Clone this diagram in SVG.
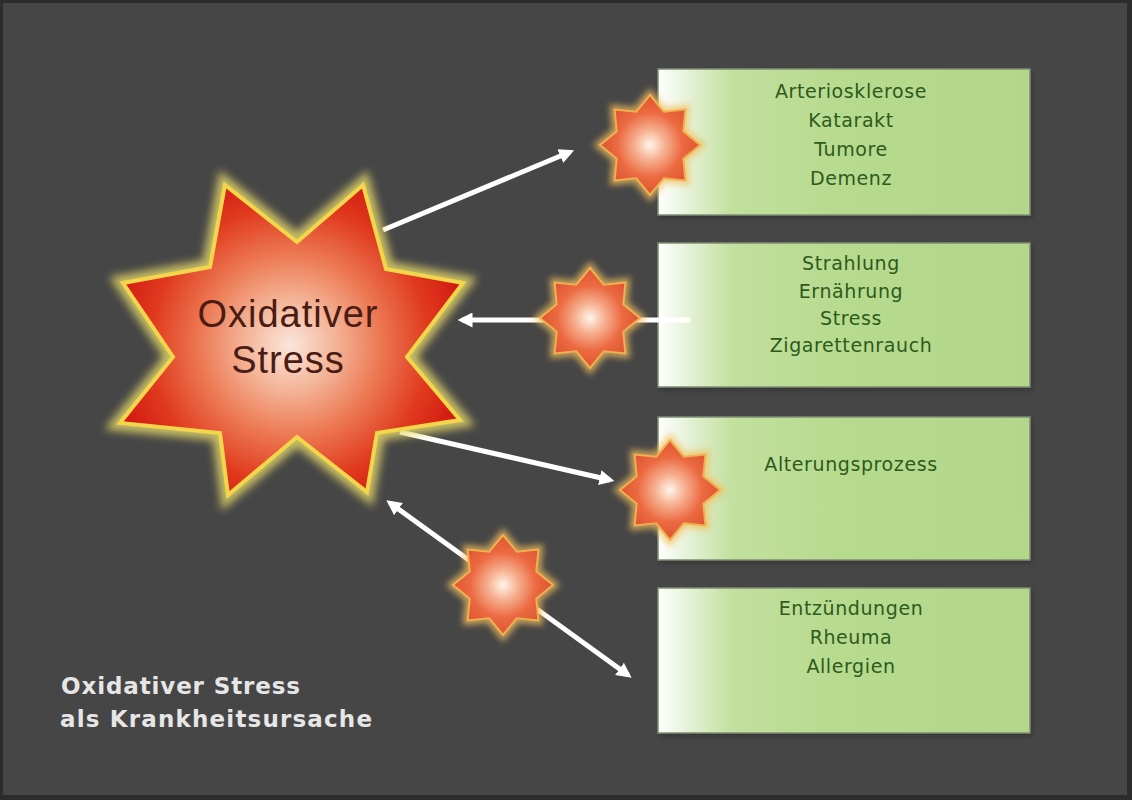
<svg xmlns="http://www.w3.org/2000/svg" xmlns:xlink="http://www.w3.org/1999/xlink" width="1132" height="800" viewBox="0 0 1132 800">
  <defs>
    <style>
      .box { stroke: #7f8f74; stroke-width: 1.5; }
      .boxtxt { font-family: "DejaVu Sans", "Liberation Sans", sans-serif; font-size: 19px; fill: #2e5a1c; text-anchor: middle; letter-spacing: 0.6px; }
      .bigtxt { font-family: "Liberation Sans", Arial, sans-serif; font-size: 38px; fill: #4a1c14; text-anchor: middle; letter-spacing: 1px; }
      .caption { font-family: "DejaVu Sans", "Liberation Sans", sans-serif; font-size: 23px; font-weight: bold; fill: #e6e6e6; }
      .conn { stroke: #ffffff; stroke-width: 5; fill: none; stroke-linecap: butt; }
      .sglow { fill: none; stroke: #f2c060; stroke-width: 9; opacity: 0.75; }
      .sstar { fill: url(#smallGrad); stroke: #f0b050; stroke-width: 2; }
    </style>
    <linearGradient id="boxGrad" x1="0" y1="0" x2="1" y2="0">
      <stop offset="0" stop-color="#ffffff"/>
      <stop offset="0.08" stop-color="#e6f2d8"/>
      <stop offset="0.2" stop-color="#c2e09e"/>
      <stop offset="0.5" stop-color="#b6da8e"/>
      <stop offset="1" stop-color="#b2d78a"/>
    </linearGradient>
    <radialGradient id="bigGrad" cx="290" cy="345" r="185" gradientUnits="userSpaceOnUse">
      <stop offset="0" stop-color="#fbe6dc"/>
      <stop offset="0.25" stop-color="#f4b396"/>
      <stop offset="0.5" stop-color="#ec7650"/>
      <stop offset="0.75" stop-color="#e03a1e"/>
      <stop offset="1" stop-color="#d01410"/>
    </radialGradient>
    <radialGradient id="smallGrad" cx="0.5" cy="0.5" r="0.5">
      <stop offset="0" stop-color="#fff6ec"/>
      <stop offset="0.3" stop-color="#f6b090"/>
      <stop offset="0.65" stop-color="#ec6a42"/>
      <stop offset="1" stop-color="#de5430"/>
    </radialGradient>
    <filter id="blur4" x="-30%" y="-30%" width="160%" height="160%">
      <feGaussianBlur stdDeviation="4"/>
    </filter>
    <filter id="blur3" x="-40%" y="-40%" width="180%" height="180%">
      <feGaussianBlur stdDeviation="3"/>
    </filter>
    <filter id="shadow" x="-5%" y="-5%" width="110%" height="115%">
      <feGaussianBlur stdDeviation="2"/>
    </filter>
    <polygon id="smallStar" points="0,-50 13.8,-33.3 35.4,-35.4 33.3,-13.8 50,0 33.3,13.8 35.4,35.4 13.8,33.3 0,50 -13.8,33.3 -35.4,35.4 -33.3,13.8 -50,0 -33.3,-13.8 -35.4,-35.4 -13.8,-33.3"/>
    <polygon id="bigStar" points="225,185 297,242 363,185 386,269 463,283 407,357 460,420 377,433 367,492 297,437 228,495 220,433 120,423 173,357 123,283 210,267"/>
    <marker id="arrow" viewBox="0 0 10 10" refX="7" refY="5" markerWidth="3" markerHeight="3" orient="auto-start-reverse" markerUnits="strokeWidth">
      <path d="M0,0 L10,5 L0,10 z" fill="#ffffff"/>
    </marker>
  </defs>

  <!-- background -->
  <rect x="0" y="0" width="1132" height="800" fill="#2c2c2c"/>
  <rect x="3" y="3" width="1124" height="792" fill="#464646"/>

  <!-- boxes -->
  <g id="box1">
    <rect x="660" y="72" width="372" height="146" fill="#2a2a2a" opacity="0.6" filter="url(#shadow)"/>
    <rect class="box" x="658" y="69" width="372" height="146" fill="url(#boxGrad)"/>
    <text class="boxtxt" x="851" y="98">Arteriosklerose</text>
    <text class="boxtxt" x="851" y="127">Katarakt</text>
    <text class="boxtxt" x="851" y="156">Tumore</text>
    <text class="boxtxt" x="851" y="185">Demenz</text>
  </g>
  <g id="box2">
    <rect x="660" y="246" width="372" height="144" fill="#2a2a2a" opacity="0.6" filter="url(#shadow)"/>
    <rect class="box" x="658" y="243" width="372" height="144" fill="url(#boxGrad)"/>
    <text class="boxtxt" x="851" y="270">Strahlung</text>
    <text class="boxtxt" x="851" y="298">Ernährung</text>
    <text class="boxtxt" x="851" y="325">Stress</text>
    <text class="boxtxt" x="851" y="352">Zigarettenrauch</text>
  </g>
  <g id="box3">
    <rect x="660" y="420" width="372" height="143" fill="#2a2a2a" opacity="0.6" filter="url(#shadow)"/>
    <rect class="box" x="658" y="417" width="372" height="143" fill="url(#boxGrad)"/>
    <text class="boxtxt" x="851" y="471">Alterungsprozess</text>
  </g>
  <g id="box4">
    <rect x="660" y="591" width="372" height="145" fill="#2a2a2a" opacity="0.6" filter="url(#shadow)"/>
    <rect class="box" x="658" y="588" width="372" height="145" fill="url(#boxGrad)"/>
    <text class="boxtxt" x="851" y="615">Entzündungen</text>
    <text class="boxtxt" x="851" y="644">Rheuma</text>
    <text class="boxtxt" x="851" y="673">Allergien</text>
  </g>

  <!-- connectors -->
  <g id="connectors">
    <line class="conn" x1="383" y1="230" x2="570" y2="152" marker-end="url(#arrow)"/>
    <line class="conn" x1="690" y1="320" x2="462" y2="320" marker-end="url(#arrow)"/>
    <line class="conn" x1="400" y1="432" x2="610" y2="480" marker-end="url(#arrow)"/>
    <line class="conn" x1="390" y1="503" x2="628" y2="675" marker-start="url(#arrow)" marker-end="url(#arrow)"/>
  </g>

  <!-- small stars -->
  <g id="starA" transform="translate(650,145)">
    <use xlink:href="#smallStar" href="#smallStar" class="sglow" filter="url(#blur3)"/>
    <use xlink:href="#smallStar" href="#smallStar" class="sstar"/>
  </g>
  <g id="starB" transform="translate(590,318)">
    <use xlink:href="#smallStar" href="#smallStar" class="sglow" filter="url(#blur3)"/>
    <use xlink:href="#smallStar" href="#smallStar" class="sstar"/>
  </g>
  <g id="starC" transform="translate(670,490)">
    <use xlink:href="#smallStar" href="#smallStar" class="sglow" filter="url(#blur3)"/>
    <use xlink:href="#smallStar" href="#smallStar" class="sstar"/>
  </g>
  <g id="starD" transform="translate(503,585)">
    <use xlink:href="#smallStar" href="#smallStar" class="sglow" filter="url(#blur3)"/>
    <use xlink:href="#smallStar" href="#smallStar" class="sstar"/>
  </g>

  <!-- big star -->
  <g id="bigStarNode">
    <use xlink:href="#bigStar" href="#bigStar" fill="none" stroke="#e8dc6a" stroke-width="16" opacity="0.8" filter="url(#blur4)"/>
    <use xlink:href="#bigStar" href="#bigStar" fill="url(#bigGrad)" stroke="#f4d64c" stroke-width="4" stroke-linejoin="miter"/>
    <text class="bigtxt" x="288" y="327">Oxidativer</text>
    <text class="bigtxt" x="288" y="373">Stress</text>
  </g>

  <!-- caption -->
  <g id="caption">
    <text class="caption" x="61" y="694" textLength="239" lengthAdjust="spacing">Oxidativer Stress</text>
    <text class="caption" x="60" y="727" textLength="312" lengthAdjust="spacing">als Krankheitsursache</text>
  </g>
</svg>
